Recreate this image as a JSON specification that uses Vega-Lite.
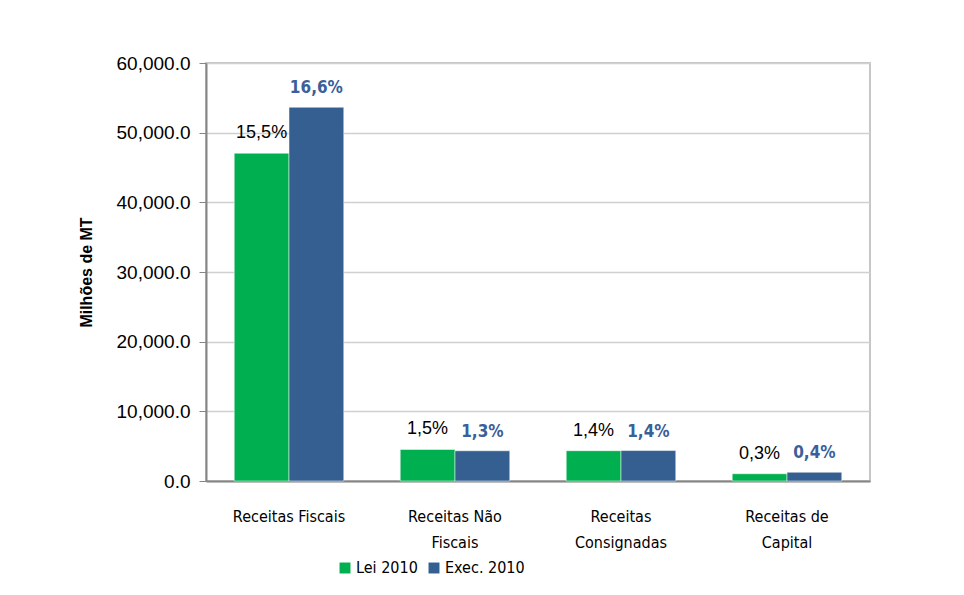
{
  "$schema": "https://vega.github.io/schema/vega-lite/v6.json",
  "autosize": "none",
  "padding": {"left": 206, "top": 63, "right": 94, "bottom": 114},
  "width": 664,
  "height": 418,
  "background": "white",
  "data": {
    "values": [
      {"categoria": "Receitas Fiscais", "serie": "Lei 2010", "valor": 47050, "rotulo": "15,5%"},
      {"categoria": "Receitas Fiscais", "serie": "Exec. 2010", "valor": 53650, "rotulo": "16,6%"},
      {"categoria": "Receitas Não Fiscais", "serie": "Lei 2010", "valor": 4530, "rotulo": "1,5%"},
      {"categoria": "Receitas Não Fiscais", "serie": "Exec. 2010", "valor": 4340, "rotulo": "1,3%"},
      {"categoria": "Receitas Consignadas", "serie": "Lei 2010", "valor": 4350, "rotulo": "1,4%"},
      {"categoria": "Receitas Consignadas", "serie": "Exec. 2010", "valor": 4370, "rotulo": "1,4%"},
      {"categoria": "Receitas de Capital", "serie": "Lei 2010", "valor": 1040, "rotulo": "0,3%"},
      {"categoria": "Receitas de Capital", "serie": "Exec. 2010", "valor": 1260, "rotulo": "0,4%"}
    ]
  },
  "encoding": {
    "x": {
      "field": "categoria",
      "type": "nominal",
      "sort": null,
      "scale": {"paddingInner": 0.34, "paddingOuter": 0.17},
      "axis": {
        "title": null,
        "labelAngle": 0,
        "labelFont": "DejaVu Sans Condensed, Liberation Sans, sans-serif",
        "labelFontSize": 16,
        "labelColor": "#000000",
        "labelPadding": 27,
        "labelLineHeight": 26,
        "labelBaseline": "top",
        "ticks": false,
        "domainColor": "#868686",
        "domainWidth": 2,
        "labelExpr": "datum.value == 'Receitas Não Fiscais' ? ['Receitas Não', 'Fiscais'] : datum.value == 'Receitas Consignadas' ? ['Receitas', 'Consignadas'] : datum.value == 'Receitas de Capital' ? ['Receitas de', 'Capital'] : datum.value"
      }
    },
    "xOffset": {"field": "serie", "type": "nominal", "sort": ["Lei 2010", "Exec. 2010"], "scale": {"paddingInner": 0, "paddingOuter": 0}},
    "y": {
      "field": "valor",
      "type": "quantitative",
      "scale": {"domain": [0, 60000]},
      "axis": {
        "title": "Milhões de MT",
        "titleFont": "Liberation Sans",
        "titleFontSize": 16,
        "titleFontWeight": "bold",
        "titleColor": "#000000",
        "titlePadding": 22,
        "values": [0, 10000, 20000, 30000, 40000, 50000, 60000],
        "format": ",.1f",
        "labelFont": "Liberation Sans",
        "labelFontSize": 19,
        "labelColor": "#000000",
        "labelPadding": 9,
        "tickColor": "#868686",
        "tickSize": 7,
        "domainColor": "#868686",
        "domainWidth": 2,
        "gridColor": "#D0D0D0",
        "gridWidth": 1.5
      }
    }
  },
  "layer": [
    {
      "mark": {"type": "bar", "stroke": "#FFFFFF", "strokeWidth": 0.5},
      "encoding": {
        "color": {
          "field": "serie",
          "type": "nominal",
          "scale": {"domain": ["Lei 2010", "Exec. 2010"], "range": ["#00B050", "#365F91"]},
          "legend": {
            "title": null,
            "orient": "none",
            "legendX": 131,
            "legendY": 497,
            "direction": "horizontal",
            "symbolType": "square",
            "symbolSize": 120,
            "symbolStrokeWidth": 0,
            "labelFont": "DejaVu Sans Condensed, Liberation Sans, sans-serif",
            "labelFontSize": 16,
            "labelColor": "#000000",
            "columnPadding": 8,
            "labelOffset": 3
          }
        }
      }
    },
    {
      "transform": [{"filter": "datum.serie == 'Lei 2010'"}],
      "mark": {"type": "text", "baseline": "bottom", "dy": -11, "font": "Liberation Sans", "fontSize": 18, "color": "#000000"},
      "encoding": {"text": {"field": "rotulo"}}
    },
    {
      "transform": [{"filter": "datum.serie == 'Exec. 2010'"}],
      "mark": {"type": "text", "baseline": "bottom", "dy": -10, "font": "DejaVu Sans Condensed, Liberation Sans, sans-serif", "fontWeight": "bold", "fontSize": 17, "color": "#3A609A"},
      "encoding": {"text": {"field": "rotulo"}}
    }
  ],
  "config": {
    "view": {"stroke": "#C6C6C6", "strokeWidth": 2}
  }
}
